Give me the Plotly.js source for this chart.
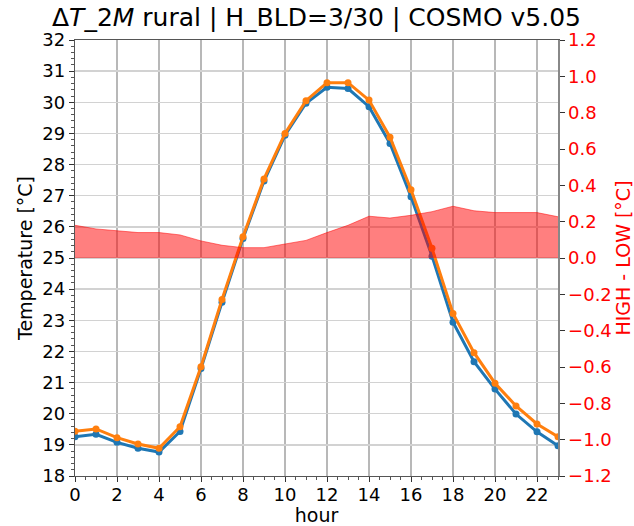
<!DOCTYPE html>
<html>
<head>
<meta charset="utf-8">
<script src="https://cdn.plot.ly/plotly-3.0.1.min.js"></script>
<style>html,body{margin:0;padding:0;background:#fff;}#chart{width:634px;height:526px;}</style>
</head>
<body>
<div id="chart"></div>
<script>
const hours = [0,1,2,3,4,5,6,7,8,9,10,11,12,13,14,15,16,17,18,19,20,21,22,23];
const tempLow = [19.26,19.34,19.08,18.89,18.77,19.43,21.45,23.58,25.63,27.47,28.94,29.97,30.48,30.44,29.86,28.68,26.97,25.06,22.94,21.67,20.79,19.99,19.42,18.97];
const tempHigh = [19.44,19.51,19.23,19.03,18.89,19.58,21.51,23.67,25.68,27.54,29.0,30.05,30.63,30.63,30.07,28.88,27.19,25.31,23.22,21.96,20.98,20.25,19.67,19.26];
const diffHighLow = [0.18,0.16,0.15,0.14,0.14,0.127,0.094,0.07,0.057,0.057,0.077,0.097,0.14,0.18,0.23,0.22,0.235,0.255,0.285,0.26,0.25,0.25,0.25,0.227];
const xTicks = [0,2,4,6,8,10,12,14,16,18,20,22];
const yTicks = [18,19,20,21,22,23,24,25,26,27,28,29,30,31,32];
const y2Ticks = [-1.2,-1.0,-0.8,-0.6,-0.4,-0.2,0.0,0.2,0.4,0.6,0.8,1.0,1.2];
const y2Labels = y2Ticks.map(v => (v < 0 ? '\u2212' : '') + Math.abs(v).toFixed(1));

const font = 'DejaVu Sans, sans-serif';
const traces = [
  {x: hours, y: tempLow, type: 'scatter', mode: 'lines+markers', name: 'LOW',
   line: {color: '#1f77b4', width: 3}, marker: {color: '#1f77b4', size: 7}, yaxis: 'y'},
  {x: hours, y: tempHigh, type: 'scatter', mode: 'lines+markers', name: 'HIGH',
   line: {color: '#ff7f0e', width: 3}, marker: {color: '#ff7f0e', size: 7}, yaxis: 'y'},
  {x: hours, y: diffHighLow, type: 'scatter', mode: 'lines', name: 'HIGH - LOW', fill: 'tozeroy',
   fillcolor: 'rgba(255,0,0,0.5)', line: {color: 'rgba(255,0,0,0.5)', width: 1, shape: 'linear'}, yaxis: 'y2'}
];

const layout = {
  width: 634, height: 526,
  margin: {l: 75, r: 76, t: 40, b: 50},
  paper_bgcolor: '#fff', plot_bgcolor: '#fff',
  showlegend: false,
  font: {family: font, size: 18, color: '#000'},
  title: {text: '\u0394<i>T</i>_2<i>M</i> rural | H_BLD=3/30 | COSMO v5.05', font: {family: font, size: 25, color: '#000'},
          x: 0.5, xanchor: 'center', xref: 'paper', y: 0.968, yref: 'container', yanchor: 'middle'},
  xaxis: {range: [0, 23], tickvals: xTicks, ticktext: xTicks.map(String), ticks: 'outside', ticklen: 5, tickwidth: 1, tickcolor: '#333',
          showgrid: true, gridcolor: '#b8b8b8', gridwidth: 1.5, zeroline: false,
          showline: true, linecolor: '#555', linewidth: 1.2, mirror: true,
          ticklabelstandoff: -3,
          minor: {dtick: 0.5, tick0: 0, ticks: 'outside', ticklen: 3, tickcolor: '#555', showgrid: false},
          title: {text: 'hour', font: {size: 19}, standoff: 3}, tickfont: {size: 18}},
  yaxis: {range: [18, 32], tickvals: yTicks, ticks: 'outside', ticklen: 5, tickcolor: '#333',
          showgrid: true, gridcolor: '#d2d2d2', gridwidth: 1.5, zeroline: false,
          showline: true, linecolor: '#555', linewidth: 1.2,
          minor: {dtick: 0.2, tick0: 18, ticks: 'outside', ticklen: 3, tickcolor: '#555', showgrid: false},
          title: {text: 'Temperature [\u00b0C]', font: {size: 19}, standoff: 4}, tickfont: {size: 18}},
  yaxis2: {range: [-1.2, 1.2], overlaying: 'y', side: 'right', tickvals: y2Ticks, ticktext: y2Labels,
           ticks: 'outside', ticklen: 5, tickcolor: '#333', showgrid: false, zeroline: false,
           showline: true, linecolor: '#888', linewidth: 1.5,
           tickfont: {size: 18, color: '#ff0000'},
           title: {text: 'HIGH - LOW [\u00b0C]', font: {size: 19, color: '#ff0000'}, standoff: 6}}
};
Plotly.newPlot('chart', traces, layout, {displayModeBar: false, staticPlot: true});
</script>
</body>
</html>
